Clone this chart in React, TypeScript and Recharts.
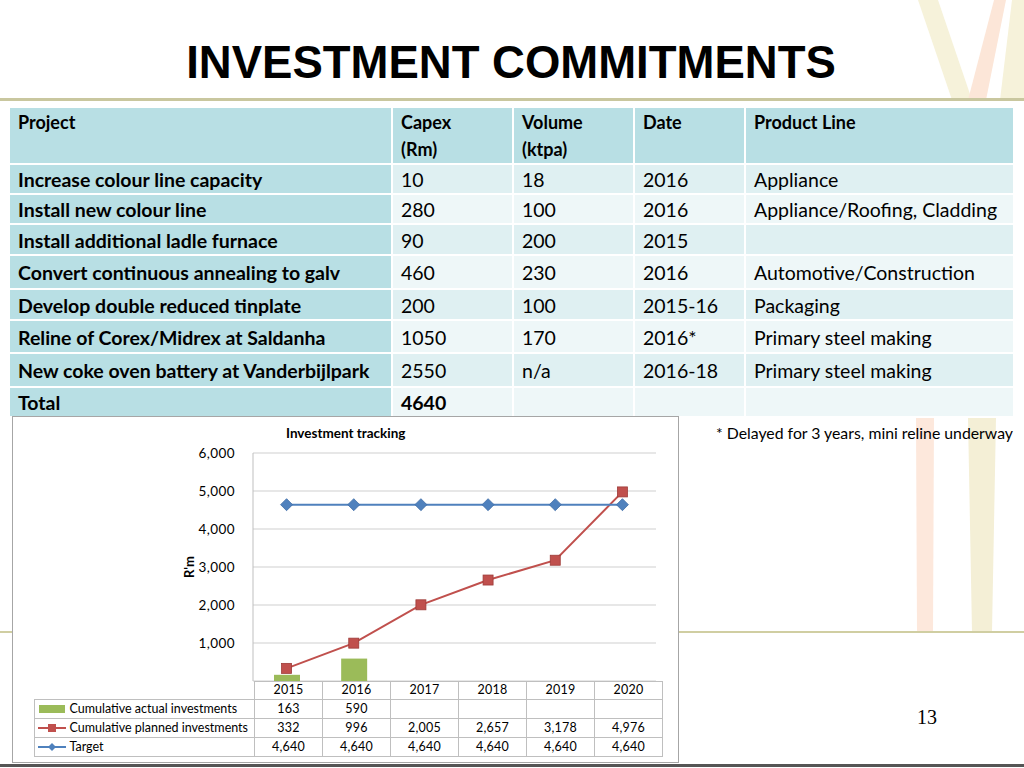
import React from 'react';
import {
  ComposedChart, Bar, Line, YAxis, XAxis, CartesianGrid,
} from 'recharts';

// chart series
const years = ['2015', '2016', '2017', '2018', '2019', '2020'];
const actual = [163, 590, null, null, null, null];
const planned = [332, 996, 2005, 2657, 3178, 4976];
const target = [4640, 4640, 4640, 4640, 4640, 4640];
const yTicks = [0, 1000, 2000, 3000, 4000, 5000, 6000];

// project table
const projects = [
  'Increase colour line capacity',
  'Install new colour line',
  'Install additional ladle furnace',
  'Convert continuous annealing to galv',
  'Develop double reduced tinplate',
  'Reline of Corex/Midrex at Saldanha',
  'New coke oven battery at Vanderbijlpark',
];
const capex = ['10', '280', '90', '460', '200', '1050', '2550'];
const volume = ['18', '100', '200', '230', '100', '170', 'n/a'];
const dates = ['2016', '2016', '2015', '2016', '2015-16', '2016*', '2016-18'];
const productLines = [
  'Appliance', 'Appliance/Roofing, Cladding', '', 'Automotive/Construction',
  'Packaging', 'Primary steel making', 'Primary steel making',
];
const capexTotal = '4640';

const chartData = years.map((year, i) => ({
  year, actual: actual[i], planned: planned[i], target: target[i],
}));

const BLUE = '#4f81bd';
const RED = '#c0504d';
const GREEN = '#9bbb59';
const FONT = 'Lato, "Open Sans", sans-serif';

// header, 7 project rows, total
const rowHeights = [55, 28, 28, 29, 32, 29, 31, 32, 28];
const colWidths = [381, 119, 119, 109, 267];

const fmt = (v: number | null) => (v == null ? '' : v.toLocaleString('en-US'));

function Diamond(props: any) {
  const { cx, cy } = props;
  if (cx == null || cy == null) return null;
  return (
    <polygon
      points={`${cx},${cy - 6} ${cx + 6},${cy} ${cx},${cy + 6} ${cx - 6},${cy}`}
      fill={BLUE}
      stroke="#3d6ca6"
      strokeWidth={0.8}
    />
  );
}

function Square(props: any) {
  const { cx, cy } = props;
  if (cx == null || cy == null) return null;
  return (
    <rect
      x={cx - 5}
      y={cy - 5}
      width={10}
      height={10}
      fill={RED}
      stroke="#9d3b38"
      strokeWidth={0.8}
    />
  );
}

function LegendKey({ kind }: { kind: 'bar' | 'red' | 'blue' }) {
  return (
    <svg width={30} height={12} style={{ verticalAlign: 'middle', marginRight: 3 }}>
      {kind === 'bar' && <rect x={2} y={2} width={26} height={8} fill={GREEN} />}
      {kind === 'red' && (
        <g>
          <line x1={1} y1={6} x2={29} y2={6} stroke={RED} strokeWidth={2} />
          <rect x={11} y={2} width={8} height={8} fill={RED} />
        </g>
      )}
      {kind === 'blue' && (
        <g>
          <line x1={1} y1={6} x2={29} y2={6} stroke={BLUE} strokeWidth={2} />
          <polygon points="15,2 19,6 15,10 11,6" fill={BLUE} />
        </g>
      )}
    </svg>
  );
}

function ProjectTable() {
  const cell = (w: number, bg: string, bold: boolean, h: number, top = false): React.CSSProperties => ({
    width: w, height: h, background: bg, fontWeight: bold ? 700 : 400,
    padding: top ? '1px 8px 0 8px' : '2px 8px 0 8px', boxSizing: 'border-box',
    verticalAlign: top ? 'top' : 'middle', whiteSpace: 'nowrap',
  });
  const light = (i: number) => (i % 2 === 0 ? '#dff0f2' : '#eef7f8');
  const teal = '#b8dfe4';
  return (
    <table
      style={{
        position: 'absolute', left: 8, top: 106, borderSpacing: 2,
        fontFamily: FONT, fontSize: 19.5, color: '#000', lineHeight: '26px',
      }}
    >
      <tbody>
        <tr>
          {['Project', 'Capex\n(Rm)', 'Volume\n(ktpa)', 'Date', 'Product Line'].map((t, c) => (
            <td
              key={c}
              style={{ ...cell(colWidths[c], teal, true, rowHeights[0], true), whiteSpace: 'pre', fontSize: 18, lineHeight: '27px' }}
            >
              {t}
            </td>
          ))}
        </tr>
        {projects.map((p, i) => (
          <tr key={p}>
            <td style={cell(colWidths[0], teal, true, rowHeights[i + 1])}>{p}</td>
            <td style={cell(colWidths[1], light(i), false, rowHeights[i + 1])}>{capex[i]}</td>
            <td style={cell(colWidths[2], light(i), false, rowHeights[i + 1])}>{volume[i]}</td>
            <td style={cell(colWidths[3], light(i), false, rowHeights[i + 1])}>{dates[i]}</td>
            <td style={cell(colWidths[4], light(i), false, rowHeights[i + 1])}>{productLines[i]}</td>
          </tr>
        ))}
        <tr>
          <td style={cell(colWidths[0], teal, true, rowHeights[8])}>Total</td>
          <td style={cell(colWidths[1], '#eef7f8', true, rowHeights[8])}>{capexTotal}</td>
          <td style={cell(colWidths[2], '#eef7f8', false, rowHeights[8])} />
          <td style={cell(colWidths[3], '#eef7f8', false, rowHeights[8])} />
          <td style={cell(colWidths[4], '#eef7f8', false, rowHeights[8])} />
        </tr>
      </tbody>
    </table>
  );
}

function DataTable() {
  const b = '1px solid #bfbfbf';
  const td: React.CSSProperties = {
    border: b, padding: 0, textAlign: 'center', lineHeight: '16px',
  };
  const rows: { key: 'bar' | 'red' | 'blue'; name: string; vals: (number | null)[] }[] = [
    { key: 'bar', name: 'Cumulative actual investments', vals: actual },
    { key: 'red', name: 'Cumulative planned investments', vals: planned },
    { key: 'blue', name: 'Target', vals: target },
  ];
  return (
    <table
      style={{
        position: 'absolute', left: 20.5, top: 263.5, borderCollapse: 'collapse',
        fontFamily: FONT, fontSize: 12.5, color: '#000', tableLayout: 'fixed',
        letterSpacing: 0.2,
      }}
    >
      <tbody>
        <tr style={{ height: 18 }}>
          <td style={{ width: 220, padding: 0, border: 'none' }} />
          {years.map((y) => (
            <td key={y} style={{ ...td, width: 67 }}>{y}</td>
          ))}
        </tr>
        {rows.map((r) => (
          <tr key={r.key} style={{ height: 19 }}>
            <td style={{ ...td, textAlign: 'left', whiteSpace: 'nowrap', paddingLeft: 2, letterSpacing: 0 }}>
              <LegendKey kind={r.key} />
              {r.name}
            </td>
            {r.vals.map((v, i) => (
              <td key={i} style={td}>{fmt(v)}</td>
            ))}
          </tr>
        ))}
      </tbody>
    </table>
  );
}

function Decor() {
  return (
    <svg width={1024} height={768} style={{ position: 'absolute', left: 0, top: 0 }}>
      <polygon points="918,0 938,0 972,100 952,100" fill="#f6f2da" />
      <polygon points="994,0 1006,0 986,100 968,100" fill="#fce6d8" />
      <polygon points="1012,0 1024,0 1024,100 1000,100" fill="#f6f2da" />
      <polygon points="916,418 934,418 933,632 917,632" fill="#fde8dc" />
      <polygon points="968,418 996,418 992,632 972,632" fill="#f4efd6" />
      <rect x={0} y={98} width={1024} height={3} fill="#c9c79f" />
      <rect x={0} y={631} width={1024} height={2} fill="#d0cea2" />
      <rect x={0} y={764} width={1024} height={3} fill="#555" />
    </svg>
  );
}

export default function App() {
  return (
    <div style={{ position: 'relative', width: 1024, height: 768, background: '#fff', overflow: 'hidden' }}>
      <style>{'body{margin:0}'}</style>
      <Decor />
      <div
        style={{
          position: 'absolute', left: 0, top: 35, width: 1022, textAlign: 'center',
          fontFamily: '"Liberation Sans", Arial, sans-serif', fontWeight: 700, fontSize: 45.5,
          color: '#000', lineHeight: '56px',
        }}
      >
        INVESTMENT COMMITMENTS
      </div>
      <ProjectTable />
      <div
        style={{
          position: 'absolute', right: 11, top: 423, fontFamily: FONT, fontSize: 15.8, color: '#000',
        }}
      >
        * Delayed for 3 years, mini reline underway
      </div>
      <div
        style={{
          position: 'absolute', left: 12, top: 416, width: 667, height: 347, boxSizing: 'border-box',
          border: '1px solid #a6a6a6', background: '#fff',
        }}
      >
        <div
          style={{
            position: 'absolute', left: 273, top: 8, whiteSpace: 'nowrap',
            fontFamily: FONT, fontSize: 13.5, fontWeight: 700, color: '#000',
          }}
        >
          Investment tracking
        </div>
        <ComposedChart
          width={665}
          height={266}
          data={chartData}
          margin={{ top: 36, right: 22, bottom: 2, left: 0 }}
          barCategoryGap="31%"
        >
          <CartesianGrid vertical={false} stroke="#cfcfcf" />
          <XAxis dataKey="year" hide />
          <YAxis
            width={240}
            domain={[0, 6000]}
            ticks={yTicks}
            interval={0}
            tickFormatter={(v: number) => (v === 0 ? '' : v.toLocaleString('en-US'))}
            tick={{ fill: '#000', fontSize: 13.5, fontFamily: FONT, letterSpacing: 0.4 }}
            tickLine={false}
            tickMargin={12}
            axisLine={{ stroke: '#bfbfbf' }}
            label={{
              value: "R'm", angle: -90, position: 'insideLeft', offset: 176,
              style: { fontFamily: FONT, fontSize: 13, fontWeight: 700, fill: '#000', textAnchor: 'middle' },
            }}
          />
          <Bar dataKey="actual" fill={GREEN} barSize={26} isAnimationActive={false} />
          <Line
            dataKey="planned"
            stroke={RED}
            strokeWidth={2}
            dot={(p: any) => <Square key={`s-${p.index}`} {...p} />}
            isAnimationActive={false}
          />
          <Line
            dataKey="target"
            stroke={BLUE}
            strokeWidth={2}
            dot={(p: any) => <Diamond key={`d-${p.index}`} {...p} />}
            isAnimationActive={false}
          />
        </ComposedChart>
        <DataTable />
      </div>
      <div
        style={{
          position: 'absolute', left: 917, top: 706, fontFamily: '"Liberation Serif", serif',
          fontSize: 20, color: '#000',
        }}
      >
        13
      </div>
    </div>
  );
}
